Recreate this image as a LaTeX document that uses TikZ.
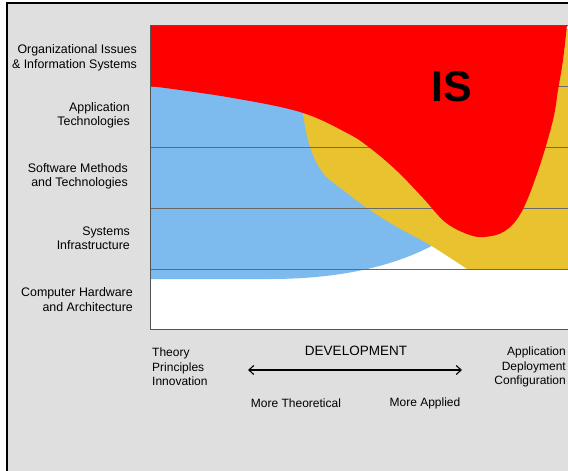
\documentclass[tikz,border=0pt]{standalone}
\usepackage{fontspec}
\setmainfont{Liberation Sans}
\usetikzlibrary{arrows.meta}
\definecolor{isred}{RGB}{255,0,0}
\definecolor{isblue}{RGB}{125,187,238}
\definecolor{isyellow}{RGB}{233,194,47}
\definecolor{panel}{RGB}{223,223,223}
\definecolor{rowrule}{RGB}{105,105,105}
\tikzset{
  rowlabel/.style={anchor=east,align=right,inner sep=0pt,font=\fontsize{12.4}{14.5}\selectfont},
  axislabel/.style={inner sep=0pt,font=\fontsize{12}{14.5}\selectfont},
}
\begin{document}
\begin{tikzpicture}[x=1pt,y=-1pt]
    \useasboundingbox (0,0) rectangle (568,471);
    \clip (0,0) rectangle (568,471);
    \fill[white] (0,0) rectangle (568,471);
    \draw[line width=1.6pt, fill=panel] (7,3) rectangle (600,500);
    \fill[white] (150,25) rectangle (600,329);
    \fill[isblue] (150,60) -- (150,279) -- (270,279) .. controls (350,279) and (410,262) .. (450,235) -- (450,60) -- cycle;
    \fill[isyellow] (300,60) -- plot[smooth,tension=0.6] coordinates {(302,104) (304,120) (310,147) (323,173) (347,193) (370,210) (397,227) (430,245) (467,269)} -- (600,269) -- (600,25) -- cycle;
    \foreach \y in {86,147,208,269}
        \draw[rowrule] (150,\y) -- (600,\y);
    \fill[isred] (150,25) -- plot[smooth,tension=0.6] coordinates {(150,86) (227,97) (300,112) (347,133) (370,148) (397,171) (423,198) (445,222) (467,234) (484,237) (505,231) (522,211) (539,168) (553,120) (558,90) (563,60) (567,25)} -- cycle;
    \draw[rowrule!80!black] (600,25) -- (150,25) -- (150,329) -- (600,329);
    \node[font=\fontsize{43}{43}\bfseries\selectfont] (is) at (452,87) {IS};
    \node[rowlabel] (orgis) at (137,58) {Organizational Issues\\\& Information Systems};
    \node[rowlabel] (apptech) at (130,115.5) {Application\\Technologies};
    \node[rowlabel] (swmeth) at (128,176.5) {Software Methods\\and Technologies};
    \node[rowlabel] (sysinf) at (130,238) {Systems\\Infrastructure};
    \node[rowlabel] (comphw) at (133,299.5) {Computer Hardware\\and Architecture};
    \node[axislabel,anchor=west,align=left] (theory) at (152,367) {Theory\\Principles\\Innovation};
    \node[axislabel,anchor=east,align=right] (applic) at (566,367) {Application\\Deployment\\Configuration};
    \node[axislabel,font=\fontsize{13.5}{15}\selectfont] (devel) at (356,351) {DEVELOPMENT};
    \node[axislabel] (moretheo) at (296,403) {More Theoretical};
    \node[axislabel] (moreappl) at (425,403) {More Applied};
    \coordinate (theoend) at (248,370);
    \coordinate (applend) at (462,370);
    \draw[line width=1.1pt, {Straight Barb[length=5pt,width=9pt]}-{Straight Barb[length=5pt,width=9pt]}] (theoend) -- (applend);
\end{tikzpicture}
\end{document}
